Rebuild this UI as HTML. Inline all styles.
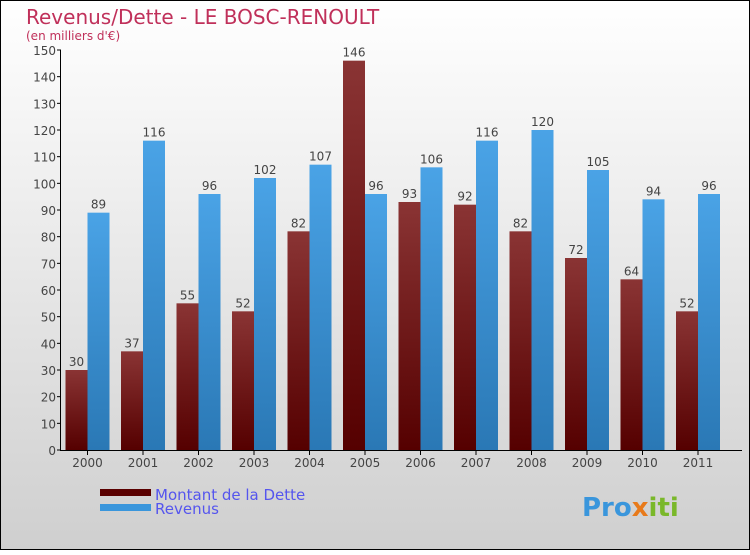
<!DOCTYPE html>
<html><head><meta charset="utf-8"><style>
body{margin:0}
svg text{font-family:"DejaVu Sans","Liberation Sans",sans-serif}
</style></head><body>
<svg id="c" width="750" height="550" xmlns="http://www.w3.org/2000/svg">
<defs>
<linearGradient id="bg" x1="0" y1="0" x2="0" y2="1"><stop offset="0" stop-color="#ffffff"/><stop offset="1" stop-color="#cfcfcf"/></linearGradient>
<linearGradient id="gd" x1="0" y1="0" x2="0" y2="1"><stop offset="0" stop-color="#8a3434"/><stop offset="1" stop-color="#550000"/></linearGradient>
<linearGradient id="gr" x1="0" y1="0" x2="0" y2="1"><stop offset="0" stop-color="#4aa3e6"/><stop offset="1" stop-color="#2a78b5"/></linearGradient>
</defs>
<rect x="0.5" y="0.5" width="749" height="549" fill="url(#bg)" stroke="#000"/>
<text x="26" y="24" font-size="20" fill="#c0305a">Revenus/Dette - LE BOSC-RENOULT</text>
<text x="26" y="40" font-size="12" fill="#c0305a">(en milliers d'€)</text>
<g id="plot"></g>
<rect x="100" y="489" width="51" height="7" fill="#5a0000"/>
<rect x="100" y="504" width="51" height="7" fill="#3a96dc"/>
<text x="155" y="500" font-size="15" fill="#5555ee">Montant de la Dette</text>
<text x="155" y="514" font-size="15" fill="#5555ee">Revenus</text>
<text x="582" y="516" font-size="26" font-weight="bold" fill="#3a96dc">Pro<tspan fill="#e87a1a">x</tspan><tspan fill="#7ab82a">iti</tspan></text>
</svg>
<script>
const years=["2000","2001","2002","2003","2004","2005","2006","2007","2008","2009","2010","2011"];
const dette=[30,37,55,52,82,146,93,92,82,72,64,52];
const revenus=[89,116,96,102,107,96,106,116,120,105,94,96];
const yTicks=[0,10,20,30,40,50,60,70,80,90,100,110,120,130,140,150];
const NS="http://www.w3.org/2000/svg";
const g=document.getElementById('plot');
const y=v=>450-v*400/150;
const xc=i=>87.5+i*55.5;
function mk(t,a){const e=document.createElementNS(NS,t);for(const k in a)e.setAttribute(k,a[k]);g.appendChild(e);return e;}
years.forEach((yr,i)=>{
  let b=mk('rect',{x:xc(i)-22,y:y(dette[i]),width:22,height:450-y(dette[i]),fill:'url(#gd)'});
  
  
  let r=mk('rect',{x:xc(i),y:y(revenus[i]),width:22,height:450-y(revenus[i]),fill:'url(#gr)'});
  
  
  let t1=mk('text',{x:xc(i)-11,y:y(dette[i])-4,'font-size':12,fill:'#444','text-anchor':'middle'});t1.textContent=dette[i];
  
  
  let t2=mk('text',{x:xc(i)+11,y:y(revenus[i])-4,'font-size':12,fill:'#444','text-anchor':'middle'});t2.textContent=revenus[i];
  
  
  let tk=mk('line',{x1:xc(i),x2:xc(i),y1:450,y2:455,stroke:'#000'});
  
  
  let xl=mk('text',{x:xc(i),y:467,'font-size':12,fill:'#444','text-anchor':'middle'});xl.textContent=yr;
  
  
});
yTicks.forEach(v=>{
  let l=mk('line',{x1:57,x2:61,y1:y(v),y2:y(v),stroke:'#000'});
  
  
  let t=mk('text',{x:56,y:y(v)+5,'font-size':12,fill:'#444','text-anchor':'end'});t.textContent=v;
  
  
});
let ya=mk('line',{x1:60.5,x2:60.5,y1:50,y2:450,stroke:'#000'});


let xa=mk('line',{x1:60,x2:742,y1:450.5,y2:450.5,stroke:'#000'});


</script>
</body></html>
